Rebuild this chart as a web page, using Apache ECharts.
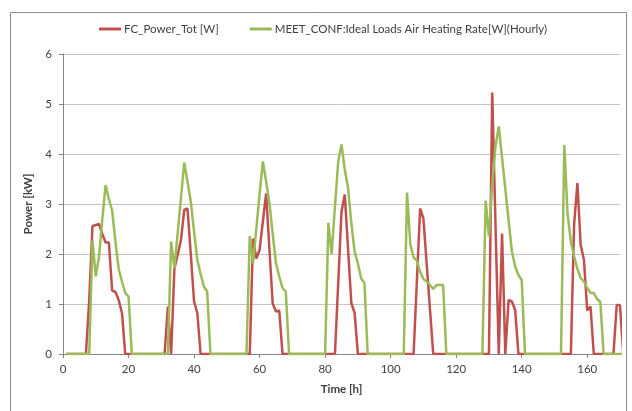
<!DOCTYPE html>
<html><head><meta charset="utf-8">
<script src="https://cdn.jsdelivr.net/npm/echarts@6/dist/echarts.min.js"></script>
<style>html,body{margin:0;padding:0;background:#fff}#c{width:632px;height:411px}</style>
</head><body><div id="c"></div>
<script>
// Time [h], one point per hour
const hours = Array.from({length: 171}, (_, i) => i + 1);
const xTickLabels = [0, 20, 40, 60, 80, 100, 120, 140, 160];
const seriesNames = ['FC_Power_Tot [W]', 'MEET_CONF:Ideal Loads Air Heating Rate[W](Hourly)'];

// kW
const fcPower = [
  0,0,0,0,0,0,0,1.08,2.56,2.58,
  2.6,2.4,2.23,2.23,1.27,1.24,1.08,0.82,0,0,
  0,0,0,0,0,0,0,0,0,0,
  0,0.95,0,1.71,1.98,2.28,2.88,2.91,2.0,1.05,
  0.82,0,0,0,0,0,0,0,0,0,
  0,0,0,0,0,0,0,2.31,1.91,2.08,
  2.65,3.21,2.1,1.01,0.85,0.87,0,0,0,0,
  0,0,0,0,0,0,0,0,0,0,
  0,0,0,1.42,2.85,3.19,2.1,1.02,0.82,0,
  0,0,0,0,0,0,0,0,0,0,
  0,0,0,0,0,0,0,1.45,2.91,2.71,
  1.8,0.9,0,0,0,0,0,0,0,0,
  0,0,0,0,0,0,0,0,0,0,
  5.23,2.6,0,2.41,0,1.08,1.05,0.88,0,0,
  0,0,0,0,0,0,0,0,0,0,
  0,0,0,0,0,2.6,3.42,2.18,1.88,0.87,
  0.95,0,0,0,0,0,0,0,0.98,0.98,
  0
];
const heatingRate = [
  0,0,0,0,0,0,0,0,2.27,1.55,
  1.95,2.7,3.38,3.1,2.87,2.25,1.7,1.45,1.22,1.15,
  0,0,0,0,0,0,0,0,0,0,
  0,0,2.25,1.72,2.42,3.12,3.83,3.45,3.05,2.45,
  1.88,1.6,1.35,1.25,0,0,0,0,0,0,
  0,0,0,0,0,0,2.36,1.81,2.5,3.2,
  3.85,3.45,3.02,2.4,1.82,1.55,1.32,1.25,0,0,
  0,0,0,0,0,0,0,0,0,0,
  2.62,2.0,2.95,3.85,4.19,3.69,3.32,2.62,2.05,1.81,
  1.51,1.42,0,0,0,0,0,0,0,0,
  0,0,0,0,3.23,2.2,1.93,1.87,1.65,1.5,
  1.45,1.38,1.3,1.38,1.38,1.38,0,0,0,0,
  0,0,0,0,0,0,0,0,3.07,2.35,
  3.4,4.15,4.55,3.93,3.3,2.68,2.05,1.75,1.58,1.48,
  0,0,0,0,0,0,0,0,0,0,
  0,0,4.18,2.8,2.25,1.95,1.7,1.52,1.45,1.32,
  1.22,1.22,1.1,1.04,0,0,0,0,0,0,
  0
];

const FONT = 'Lato, "Open Sans", sans-serif';
const chart = echarts.init(document.getElementById('c'), null, {renderer: 'canvas'});
chart.setOption({
  animation: false,
  backgroundColor: '#fff',
  graphic: [{
    type: 'rect', silent: true, z: -1,
    shape: {x: 10.5, y: 12.5, width: 616, height: 420},
    style: {fill: 'none', stroke: '#8c8c8c', lineWidth: 1}
  }],
  legend: {
    top: 23, left: 99, padding: 0, itemWidth: 22, itemHeight: 3, itemGap: 31,
    icon: 'rect',
    textStyle: {fontFamily: FONT, fontSize: 11.5, color: '#404040', padding: [0,0,0,-2]},
    data: seriesNames
  },
  grid: {left: 63, right: 12, top: 54, bottom: 57, containLabel: false},
  xAxis: {
    type: 'value', min: 0, max: 170,
    name: 'Time [h]', nameLocation: 'middle', nameGap: 29,
    nameTextStyle: {fontFamily: FONT, fontSize: 11.5, fontWeight: 'bold', color: '#404040'},
    axisLine: {show: true, onZero: false, lineStyle: {color: '#868686', width: 1}},
    axisTick: {show: true, length: 4, customValues: xTickLabels, lineStyle: {color: '#868686'}},
    axisLabel: {customValues: xTickLabels, margin: 9, fontFamily: FONT, fontSize: 11.5, color: '#404040'},
    splitLine: {show: false}
  },
  yAxis: {
    type: 'value', min: 0, max: 6, interval: 1,
    name: 'Power [kW]', nameLocation: 'middle', nameGap: 26,
    nameTextStyle: {fontFamily: FONT, fontSize: 11.5, fontWeight: 'bold', color: '#404040'},
    axisLine: {show: true, lineStyle: {color: '#868686', width: 1}},
    axisTick: {show: true, length: 4, lineStyle: {color: '#868686'}},
    axisLabel: {margin: 11, fontFamily: FONT, fontSize: 11.5, color: '#404040'},
    splitLine: {show: true, lineStyle: {color: '#c4c4c4', width: 1}}
  },
  series: [
    {
      name: seriesNames[0], type: 'line', showSymbol: false, clip: true,
      data: hours.map((h, i) => [h, fcPower[i]]),
      lineStyle: {color: '#C0504D', width: 2.5}, itemStyle: {color: '#C0504D'}
    },
    {
      name: seriesNames[1], type: 'line', showSymbol: false, clip: true,
      data: hours.map((h, i) => [h, heatingRate[i]]),
      lineStyle: {color: '#9BBB59', width: 2.5}, itemStyle: {color: '#9BBB59'}
    }
  ]
});
</script>
</body></html>
